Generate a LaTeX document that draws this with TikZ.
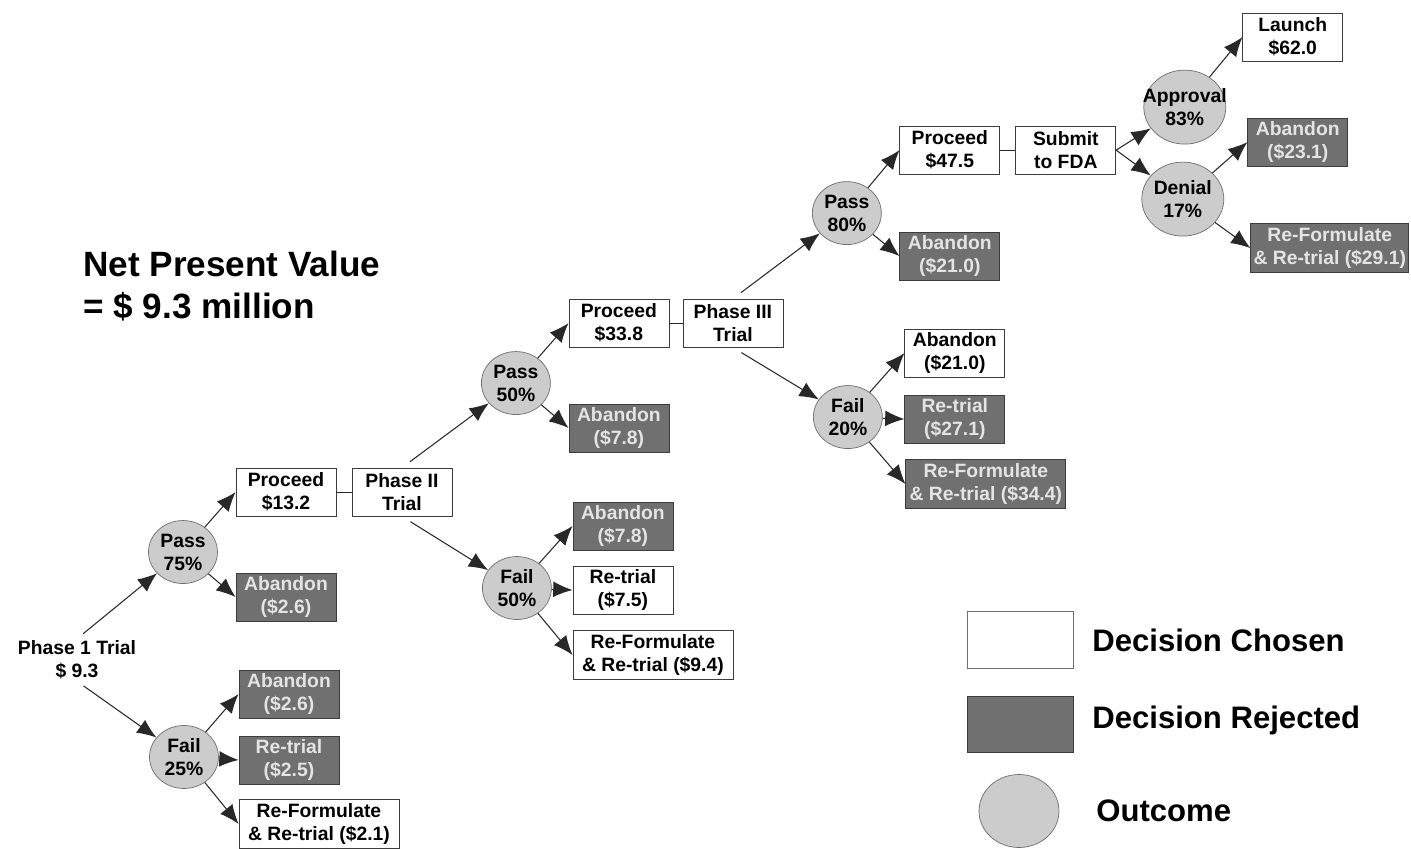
\documentclass[tikz,border=0pt]{standalone}
\usepackage{fontspec}
\setmainfont{Liberation Sans}
\usepackage{tikz}
\definecolor{boxline}{RGB}{60,60,60}
\definecolor{rejfill}{RGB}{112,112,112}
\definecolor{rejtext}{RGB}{228,228,228}
\definecolor{outfill}{RGB}{204,204,204}
\definecolor{outedge}{RGB}{110,110,110}
\definecolor{linkgray}{RGB}{40,40,40}
\usetikzlibrary{shapes.geometric, arrows.meta}
\tikzstyle{chosen} = [rectangle, minimum width=2cm, minimum height=0.96cm, inner sep=1pt, text centered, align=center, draw=boxline, fill=white, font=\fontsize{11}{13}\selectfont\bfseries]
\tikzstyle{rejected} = [chosen, fill=rejfill, text=rejtext]
\tikzstyle{wide} = [minimum width=3.2cm, minimum height=0.98cm]
\tikzstyle{outcome} = [ellipse, minimum width=1.38cm, minimum height=1.26cm, inner sep=0pt, text centered, align=center, draw=outedge, fill=outfill, font=\fontsize{11}{13}\selectfont\bfseries]
\tikzstyle{bigoutcome} = [outcome, minimum width=1.64cm, minimum height=1.48cm]
\tikzstyle{arrow} = [->, >={Latex[length=11pt, width=9pt]}, draw=linkgray, line width=0.6pt]
\tikzstyle{link} = [draw=linkgray, line width=0.6pt]
\tikzstyle{legtext} = [anchor=west, inner sep=0pt, font=\fontsize{17.7}{21}\selectfont\bfseries]

\begin{document}
\begin{tikzpicture}[x=0.02cm, y=-0.02cm, node distance=2cm]
        \useasboundingbox (0,0) rectangle (1411,849);

        \node (title) [anchor=west, inner sep=0pt, align=left, font=\fontsize{20}{24}\selectfont\bfseries] at (83,286) {Net Present Value\\= \$ 9.3 million};

        % phase I
        \node (start) [inner sep=1pt, align=center, font=\fontsize{11}{13}\selectfont\bfseries] at (77,660) {Phase 1 Trial\\\$ 9.3};
        \node (pass1) [outcome, right of=start, xshift=0.12cm, yshift=2.16cm] {Pass\\75\%};
        \node (fail1) [outcome, right of=start, xshift=0.14cm, yshift=-1.94cm] {Fail\\25\%};
        \node (proc1) [chosen, right of=pass1, xshift=0.06cm, yshift=1.2cm] {Proceed\\\$13.2};
        \node (ab1) [rejected, right of=pass1, xshift=0.06cm, yshift=-0.9cm] {Abandon\\(\$2.6)};
        \node (ph2) [chosen, right of=proc1, xshift=0.32cm] {Phase II\\Trial};
        \node (ab1f) [rejected, right of=fail1, xshift=0.1cm, yshift=1.26cm] {Abandon\\(\$2.6)};
        \node (re1) [rejected, right of=fail1, xshift=0.1cm, yshift=-0.06cm] {Re-trial\\(\$2.5)};
        \node (rf1) [chosen, wide, right of=fail1, xshift=0.7cm, yshift=-1.34cm] {Re-Formulate\\\& Re-trial (\$2.1)};

        % phase II
        \node (pass2) [outcome, right of=ph2, xshift=0.28cm, yshift=2.18cm] {Pass\\50\%};
        \node (fail2) [outcome, right of=ph2, xshift=0.3cm, yshift=-1.92cm] {Fail\\50\%};
        \node (proc2) [chosen, right of=pass2, xshift=0.06cm, yshift=1.2cm] {Proceed\\\$33.8};
        \node (ab2) [rejected, right of=pass2, xshift=0.06cm, yshift=-0.9cm] {Abandon\\(\$7.8)};
        \node (ph3) [chosen, right of=proc2, xshift=0.28cm] {Phase III\\Trial};
        \node (ab2f) [rejected, right of=fail2, xshift=0.12cm, yshift=1.24cm] {Abandon\\(\$7.8)};
        \node (re2) [chosen, right of=fail2, xshift=0.12cm, yshift=-0.04cm] {Re-trial\\(\$7.5)};
        \node (rf2) [chosen, wide, right of=fail2, xshift=0.72cm, yshift=-1.34cm] {Re-Formulate\\\& Re-trial (\$9.4)};

        % phase III
        \node (pass3) [outcome, right of=ph3, xshift=0.28cm, yshift=2.2cm] {Pass\\80\%};
        \node (fail3) [outcome, right of=ph3, xshift=0.3cm, yshift=-1.88cm] {Fail\\20\%};
        \node (proc3) [chosen, right of=pass3, xshift=0.06cm, yshift=1.26cm] {Proceed\\\$47.5};
        \node (ab3) [rejected, right of=pass3, xshift=0.06cm, yshift=-0.86cm] {Abandon\\(\$21.0)};
        \node (sub) [chosen, right of=proc3, xshift=0.32cm] {Submit\\to FDA};
        \node (ab3f) [chosen, right of=fail3, xshift=0.14cm, yshift=1.28cm] {Abandon\\(\$21.0)};
        \node (re3) [rejected, right of=fail3, xshift=0.14cm, yshift=-0.04cm] {Re-trial\\(\$27.1)};
        \node (rf3) [rejected, wide, right of=fail3, xshift=0.76cm, yshift=-1.34cm] {Re-Formulate\\\& Re-trial (\$34.4)};

        % FDA
        \node (appr) [bigoutcome, right of=sub, xshift=0.38cm, yshift=0.86cm] {\makebox[1.1cm]{Approval}\\83\%};
        \node (deny) [bigoutcome, right of=sub, xshift=0.34cm, yshift=-0.98cm] {Denial\\17\%};
        \node (launch) [chosen, right of=appr, xshift=0.16cm, yshift=1.4cm] {Launch\\\$62.0};
        \node (ab4) [rejected, right of=deny, xshift=0.3cm, yshift=1.14cm] {Abandon\\(\$23.1)};
        \node (rf4) [rejected, wide, minimum width=3.16cm, right of=deny, xshift=0.94cm, yshift=-0.98cm] {Re-Formulate\\\& Re-trial (\$29.1)};

        % legend
        \node (legc) [chosen, draw=outedge, minimum width=2.12cm, minimum height=1.14cm] at (1020,640) {};
        \node (legr) [rejected, minimum width=2.12cm, minimum height=1.12cm] at (1020,724) {};
        \node (lego) [outcome, minimum width=1.6cm, minimum height=1.46cm] at (1019,811) {};
        \node (legctxt) [legtext] at (1092,640) {Decision Chosen};
        \node (legrtxt) [legtext] at (1092,720) {Decision Rejected};
        \node (legotxt) [legtext] at (1096,811) {Outcome};

        \draw [arrow, shorten <=0.16cm] (start.north) -- (pass1);
        \draw [arrow, shorten <=0.16cm] (start.south) -- (fail1);
        \draw [arrow] (pass1) -- (proc1.west);
        \draw [arrow] (pass1) -- (ab1.west);
        \draw [link] (proc1.east) -- (ph2.west);
        \draw [arrow] (fail1) -- (ab1f.west);
        \draw [arrow] (fail1) -- (re1.west);
        \draw [arrow] (fail1) -- (rf1.west);

        \draw [arrow, shorten <=0.2cm] (ph2.north) -- (pass2);
        \draw [arrow, shorten <=0.2cm] (ph2.south) -- (fail2);
        \draw [arrow] (pass2) -- (proc2.west);
        \draw [arrow] (pass2) -- (ab2.west);
        \draw [link] (proc2.east) -- (ph3.west);
        \draw [arrow] (fail2) -- (ab2f.west);
        \draw [arrow] (fail2) -- (re2.west);
        \draw [arrow] (fail2) -- (rf2.west);

        \draw [arrow, shorten <=0.2cm] (ph3.north) -- (pass3);
        \draw [arrow, shorten <=0.2cm] (ph3.south) -- (fail3);
        \draw [arrow] (pass3) -- (proc3.west);
        \draw [arrow] (pass3) -- (ab3.west);
        \draw [link] (proc3.east) -- (sub.west);
        \draw [arrow] (fail3) -- (ab3f.west);
        \draw [arrow] (fail3) -- (re3.west);
        \draw [arrow] (fail3) -- (rf3.west);

        \draw [arrow] (sub.east) -- (appr);
        \draw [arrow] (sub.east) -- (deny);
        \draw [arrow] (appr) -- (launch.west);
        \draw [arrow] (deny) -- (ab4.west);
        \draw [arrow] (deny) -- (rf4.west);
    \end{tikzpicture}
\end{document}
